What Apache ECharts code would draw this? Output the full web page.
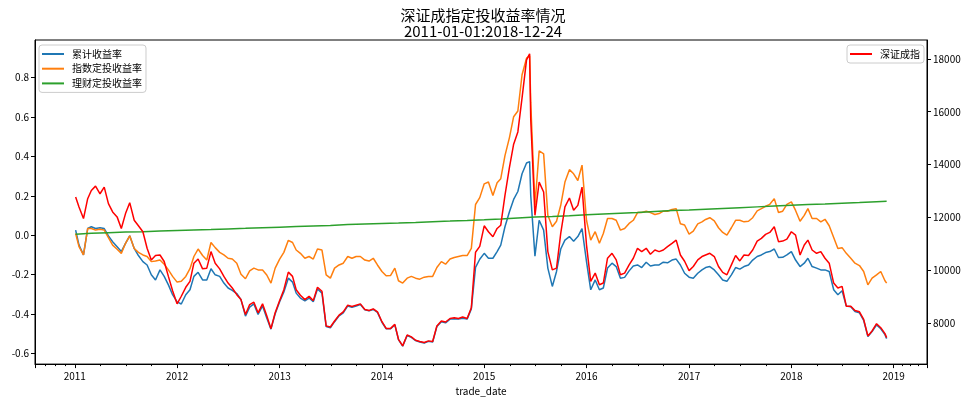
<!DOCTYPE html>
<html><head><meta charset="utf-8">
<script src="https://cdn.jsdelivr.net/npm/echarts@6.0.0/dist/echarts.min.js"></script>
<style>html,body{margin:0;padding:0;background:#fff}#c{width:966px;height:401px}</style>
</head><body><div id="c"></div>
<script>
const dates = [
'2011-01-04','2011-01-16','2011-02-01','2011-02-16','2011-03-01','2011-03-16','2011-04-01','2011-04-16','2011-05-01','2011-05-16','2011-06-01','2011-06-16','2011-07-01','2011-07-16','2011-08-01','2011-08-16','2011-09-01','2011-09-16','2011-10-01','2011-10-16','2011-11-01','2011-11-16','2011-12-01','2011-12-16',
'2012-01-01','2012-01-16','2012-02-01','2012-02-16','2012-03-01','2012-03-16','2012-04-01','2012-04-16','2012-05-01','2012-05-16','2012-06-01','2012-06-16','2012-07-01','2012-07-16','2012-08-01','2012-08-16','2012-09-01','2012-09-16','2012-10-01','2012-10-16','2012-11-01','2012-11-16','2012-12-01','2012-12-16',
'2013-01-01','2013-01-16','2013-02-01','2013-02-16','2013-03-01','2013-03-16','2013-04-01','2013-04-16','2013-05-01','2013-05-16','2013-06-01','2013-06-16','2013-07-01','2013-07-16','2013-08-01','2013-08-16','2013-09-01','2013-09-16','2013-10-01','2013-10-16','2013-11-01','2013-11-16','2013-12-01','2013-12-16',
'2014-01-01','2014-01-16','2014-02-01','2014-02-16','2014-03-01','2014-03-16','2014-04-01','2014-04-16','2014-05-01','2014-05-16','2014-06-01','2014-06-16','2014-07-01','2014-07-16','2014-08-01','2014-08-16','2014-09-01','2014-09-16','2014-10-01','2014-10-16','2014-11-01','2014-11-16','2014-12-01','2014-12-16',
'2015-01-01','2015-01-16','2015-02-01','2015-02-16','2015-03-01','2015-03-16','2015-04-01','2015-04-16','2015-05-01','2015-05-16','2015-06-01','2015-06-12','2015-06-16','2015-07-01','2015-07-16','2015-08-01','2015-08-16','2015-09-01','2015-09-16','2015-10-01','2015-10-16','2015-11-01','2015-11-16','2015-12-01','2015-12-16',
'2016-01-01','2016-01-16','2016-02-01','2016-02-16','2016-03-01','2016-03-16','2016-04-01','2016-04-16','2016-05-01','2016-05-16','2016-06-01','2016-06-16','2016-07-01','2016-07-16','2016-08-01','2016-08-16','2016-09-01','2016-09-16','2016-10-01','2016-10-16','2016-11-01','2016-11-16','2016-12-01','2016-12-16',
'2017-01-01','2017-01-16','2017-02-01','2017-02-16','2017-03-01','2017-03-16','2017-04-01','2017-04-16','2017-05-01','2017-05-16','2017-06-01','2017-06-16','2017-07-01','2017-07-16','2017-08-01','2017-08-16','2017-09-01','2017-09-16','2017-10-01','2017-10-16','2017-11-01','2017-11-16','2017-12-01','2017-12-16',
'2018-01-01','2018-01-16','2018-02-01','2018-02-16','2018-03-01','2018-03-16','2018-04-01','2018-04-16','2018-05-01','2018-05-16','2018-06-01','2018-06-16','2018-07-01','2018-07-16','2018-08-01','2018-08-16','2018-09-01','2018-09-16','2018-10-01','2018-10-16','2018-11-01','2018-11-16','2018-12-01','2018-12-07'
];
// 累计收益率
const cumReturn = [
0.026,-0.050,-0.100,0.034,0.043,0.034,0.038,0.034,-0.003,-0.033,-0.058,-0.083,-0.041,-0.003,-0.067,-0.103,-0.134,-0.151,-0.201,-0.227,-0.176,-0.209,-0.252,-0.302,
-0.338,-0.349,-0.302,-0.277,-0.209,-0.188,-0.227,-0.227,-0.170,-0.201,-0.209,-0.243,-0.268,-0.280,-0.296,-0.327,-0.411,-0.365,-0.349,-0.402,-0.359,-0.420,-0.477,-0.399,
-0.338,-0.288,-0.218,-0.238,-0.294,-0.319,-0.333,-0.319,-0.338,-0.273,-0.294,-0.464,-0.470,-0.439,-0.409,-0.394,-0.359,-0.366,-0.359,-0.352,-0.379,-0.384,-0.377,-0.392,
-0.442,-0.475,-0.475,-0.455,-0.530,-0.563,-0.509,-0.519,-0.535,-0.542,-0.547,-0.539,-0.542,-0.464,-0.439,-0.445,-0.426,-0.424,-0.426,-0.422,-0.426,-0.374,-0.163,-0.122,
-0.092,-0.117,-0.117,-0.083,-0.050,0.043,0.119,0.182,0.222,0.312,0.367,0.374,0.202,-0.106,0.076,0.026,-0.167,-0.260,-0.184,-0.070,-0.025,-0.007,-0.030,-0.007,0.034,
-0.134,-0.277,-0.227,-0.277,-0.268,-0.167,-0.142,-0.159,-0.218,-0.214,-0.181,-0.156,-0.151,-0.164,-0.137,-0.156,-0.151,-0.151,-0.137,-0.140,-0.126,-0.121,-0.151,-0.193,
-0.213,-0.218,-0.193,-0.176,-0.164,-0.159,-0.176,-0.201,-0.227,-0.234,-0.201,-0.164,-0.172,-0.159,-0.151,-0.126,-0.108,-0.100,-0.088,-0.083,-0.070,-0.113,-0.112,-0.100,
-0.083,-0.126,-0.159,-0.142,-0.117,-0.159,-0.167,-0.176,-0.176,-0.184,-0.277,-0.302,-0.282,-0.360,-0.363,-0.387,-0.394,-0.432,-0.515,-0.489,-0.455,-0.475,-0.505,-0.525
];
// 指数定投收益率
const indexDcaReturn = [
0.009,-0.058,-0.100,0.034,0.034,0.026,0.030,0.026,-0.012,-0.050,-0.071,-0.092,-0.041,-0.003,-0.067,-0.087,-0.100,-0.108,-0.134,-0.131,-0.126,-0.147,-0.176,-0.209,
-0.238,-0.234,-0.209,-0.170,-0.108,-0.070,-0.103,-0.126,-0.037,-0.063,-0.087,-0.100,-0.117,-0.121,-0.142,-0.198,-0.221,-0.181,-0.167,-0.176,-0.177,-0.202,-0.243,-0.167,
-0.121,-0.087,-0.026,-0.037,-0.075,-0.092,-0.117,-0.108,-0.121,-0.070,-0.075,-0.201,-0.218,-0.167,-0.151,-0.142,-0.108,-0.117,-0.108,-0.108,-0.126,-0.131,-0.117,-0.151,
-0.184,-0.206,-0.204,-0.167,-0.231,-0.243,-0.218,-0.209,-0.218,-0.223,-0.213,-0.209,-0.209,-0.164,-0.134,-0.147,-0.121,-0.113,-0.108,-0.103,-0.103,-0.067,0.156,0.191,
0.261,0.270,0.202,0.266,0.287,0.404,0.496,0.602,0.631,0.815,0.899,0.911,0.672,0.152,0.429,0.413,0.101,0.043,0.071,0.152,0.270,0.333,0.312,0.278,0.356,
0.076,-0.025,0.018,-0.041,0.009,0.085,0.085,0.076,0.026,0.034,0.060,0.076,0.115,0.115,0.122,0.115,0.105,0.110,0.122,0.122,0.131,0.135,0.058,0.052,
0.006,0.021,0.058,0.068,0.080,0.089,0.073,0.038,0.014,0.000,0.038,0.076,0.076,0.068,0.071,0.089,0.124,0.135,0.147,0.157,0.186,0.115,0.122,0.157,
0.169,0.126,0.071,0.101,0.135,0.085,0.085,0.068,0.081,0.048,-0.012,-0.067,-0.063,-0.092,-0.117,-0.142,-0.154,-0.184,-0.252,-0.218,-0.201,-0.184,-0.231,-0.243
];
// 深证成指
const szIndex = [
12776,12401,11963,12713,13024,13189,12900,13151,12525,12214,12026,11588,12150,12563,11899,11689,11464,10838,10399,10564,10586,10339,9776,9236,
8738,9026,9364,9589,10275,10436,10061,10088,10714,10275,10061,9776,9525,9338,9086,8899,8336,8711,8801,8400,8738,8288,7800,8400,
8861,9274,9937,9776,9274,9064,8899,9026,8861,9364,9214,7901,7864,8089,8314,8438,8689,8636,8689,8738,8524,8486,8550,8438,
8063,7811,7811,7961,7399,7151,7564,7489,7361,7313,7275,7339,7313,7901,8089,8051,8186,8213,8186,8239,8186,8588,10688,10913,
11689,11464,11276,11588,11711,12836,13901,14775,15236,16526,17963,18188,15713,12086,13339,12964,10714,10024,10088,11400,12401,12739,12274,12461,13151,
10961,9589,9900,9461,9525,10463,10650,10399,9836,9900,10211,10463,10838,10714,10838,10613,10774,10714,10774,10901,11025,11149,10586,10350,
9994,10151,10399,10526,10586,10650,10526,10151,9926,9836,10211,10564,10361,10586,10564,10774,11111,11213,11363,11438,11651,11089,11111,11186,
11464,11336,10586,10961,11149,10774,10650,10714,10463,10275,9525,9338,9401,8651,8651,8486,8438,8149,7526,7714,7988,7838,7613,7463
];
// 理财定投收益率
const wealthDates = [
'2011-01-04','2011-03-01','2011-05-01','2011-07-01','2011-09-01','2011-11-01',
'2012-01-01','2012-03-01','2012-05-01','2012-07-01','2012-09-01','2012-11-01',
'2013-01-01','2013-03-01','2013-05-01','2013-07-01','2013-09-01','2013-11-01',
'2014-01-01','2014-03-01','2014-05-01','2014-07-01','2014-09-01','2014-11-01',
'2015-01-01','2015-03-01','2015-05-01','2015-07-01','2015-09-01','2015-11-01',
'2016-01-01','2016-03-01','2016-05-01','2016-07-01','2016-09-01','2016-11-01',
'2017-01-01','2017-03-01','2017-05-01','2017-07-01','2017-09-01','2017-11-01',
'2018-01-01','2018-03-01','2018-05-01','2018-07-01','2018-09-01','2018-11-01','2018-12-07'
];
const wealthDcaReturn = [
0.005,0.010,0.013,0.016,0.018,0.021,
0.024,0.027,0.029,0.032,0.035,0.038,
0.041,0.044,0.047,0.050,0.054,0.057,
0.060,0.062,0.065,0.069,0.072,0.075,
0.079,0.083,0.088,0.092,0.095,0.099,
0.104,0.108,0.112,0.116,0.121,0.125,
0.128,0.132,0.136,0.140,0.144,0.148,
0.152,0.156,0.159,0.163,0.166,0.170,0.172
];

const FONT = "'Noto Sans CJK SC','Noto Sans',sans-serif";
const pair = (ds, vs) => ds.map((d, i) => [d, vs[i]]);
const YEAR = 365 * 24 * 3600 * 1000;
const legendBase = {
  orient: 'vertical', top: 45, padding: [3, 4, 3, 3], itemGap: 2.7,
  itemWidth: 22, itemHeight: 2, icon: 'rect',
  borderColor: '#cccccc', borderWidth: 1, borderRadius: 3,
  backgroundColor: 'rgba(255,255,255,0.8)',
  textStyle: { fontFamily: FONT, fontSize: 10, color: '#000', lineHeight: 12, padding: [0, 0, 0, 3] }
};
const axisCommon = {
  axisLine: { show: true, onZero: false, lineStyle: { color: '#000', width: 1 } },
  axisTick: { show: true, length: 4, lineStyle: { color: '#000' } },
  splitLine: { show: false }
};
const chart = echarts.init(document.getElementById('c'), null, { renderer: 'canvas' });
chart.setOption({
  animation: false,
  backgroundColor: '#ffffff',
  title: {
    text: '深证成指定投收益率情况\n2011-01-01:2018-12-24',
    left: 'center', top: 7, padding: 0,
    textStyle: { fontFamily: FONT, fontSize: 15, fontWeight: 'normal', color: '#000', lineHeight: 16 }
  },
  grid: { left: 35, right: 39, top: 40, bottom: 34, show: true, borderColor: '#000', borderWidth: 1 },
  legend: [
    Object.assign({}, legendBase, { left: 39, data: ['累计收益率', '指数定投收益率', '理财定投收益率'] }),
    Object.assign({}, legendBase, { left: 847, data: ['深证成指'] })
  ],
  xAxis: Object.assign({}, axisCommon, {
    type: 'time', min: '2010-08-12', max: '2019-04-30',
    minInterval: YEAR, maxInterval: YEAR * 1.05,
    name: 'trade_date', nameLocation: 'middle', nameGap: 21,
    nameTextStyle: { fontFamily: FONT, fontSize: 10, color: '#000' },
    minorTick: { show: true, splitNumber: 4, length: 2, lineStyle: { color: '#000' } },
    axisLabel: { fontFamily: FONT, fontSize: 10, color: '#000', margin: 7,
      formatter: v => String(new Date(v).getFullYear()) }
  }),
  yAxis: [
    Object.assign({}, axisCommon, {
      type: 'value', position: 'left', min: -0.6544, max: 0.9914, splitNumber: 8,
      axisLabel: { fontFamily: FONT, fontSize: 10, color: '#000', margin: 6, showMinLabel: false, showMaxLabel: false,
        formatter: v => v.toFixed(1) }
    }),
    Object.assign({}, axisCommon, {
      type: 'value', position: 'right', min: 6461, max: 18712, splitNumber: 6,
      axisLabel: { fontFamily: FONT, fontSize: 10, color: '#000', margin: 6, showMinLabel: false, showMaxLabel: false,
        formatter: v => String(v) }
    })
  ],
  series: [
    { name: '累计收益率', type: 'line', yAxisIndex: 0, showSymbol: false, color: '#1f77b4',
      lineStyle: { width: 1.5 }, data: pair(dates, cumReturn) },
    { name: '指数定投收益率', type: 'line', yAxisIndex: 0, showSymbol: false, color: '#ff7f0e',
      lineStyle: { width: 1.5 }, data: pair(dates, indexDcaReturn) },
    { name: '理财定投收益率', type: 'line', yAxisIndex: 0, showSymbol: false, color: '#2ca02c',
      lineStyle: { width: 1.5 }, data: pair(wealthDates, wealthDcaReturn) },
    { name: '深证成指', type: 'line', yAxisIndex: 1, showSymbol: false, color: '#ff0000',
      lineStyle: { width: 1.5 }, data: pair(dates, szIndex) }
  ]
});
</script></body></html>
